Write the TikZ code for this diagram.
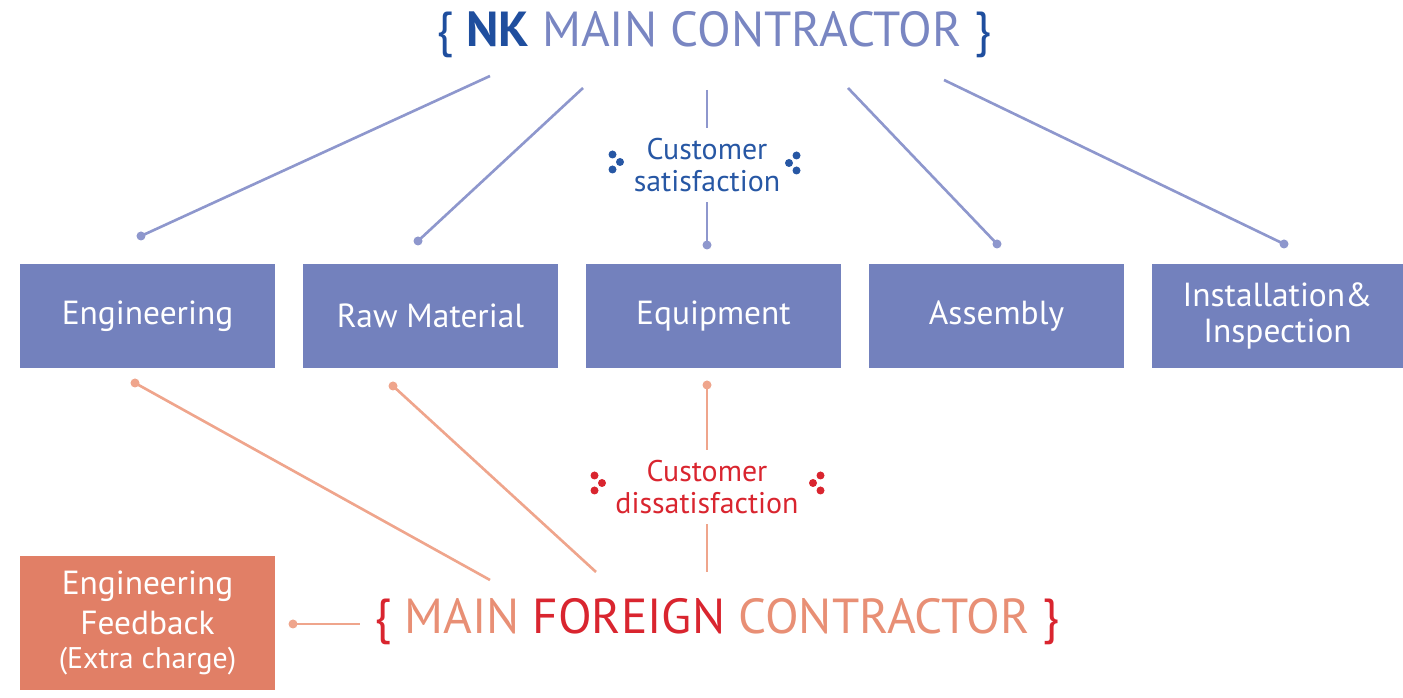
\documentclass[tikz,border=0pt]{standalone}
\usepackage{fontspec}
\setmainfont{PT Sans}

\definecolor{boxblue}{HTML}{7381BD}
\definecolor{lineblue}{HTML}{8E97CD}
\definecolor{nkblue}{HTML}{1F4E9E}
\definecolor{softblue}{HTML}{7986C2}
\definecolor{satblue}{HTML}{2757A4}
\definecolor{boxorange}{HTML}{E17F66}
\definecolor{lineorange}{HTML}{EFA58C}
\definecolor{softorange}{HTML}{E88F75}
\definecolor{dissred}{HTML}{D9252F}

\begin{document}
\begin{tikzpicture}[x=0.01cm,y=-0.01cm,
    stage/.style={fill=boxblue,minimum width=2.55cm,minimum height=1.04cm,inner sep=0pt,
                  text=white,align=center,font=\fontsize{9.5}{11}\selectfont},
    title/.style={inner sep=0pt,font=\fontsize{14}{16}\selectfont},
    note/.style={align=center,inner sep=0.1cm,font=\fontsize{8.5}{9}\selectfont},
    bdot/.style={circle,fill=lineblue,inner sep=0pt,minimum size=0.09cm},
    odot/.style={circle,fill=lineorange,inner sep=0pt,minimum size=0.09cm},
    bline/.style={draw=lineblue,line width=0.75pt},
    oline/.style={draw=lineorange,line width=0.75pt}]

    \useasboundingbox (0,0) rectangle (1403,698);

    % Define titles
    \node[title] (nk) at (714,35)
        {\color{nkblue}\{ \textbf{NK} \color{softblue}MAIN CONTRACTOR \color{nkblue}\}};
    \node[title] (mfc) at (717,622)
        {\color{dissred}\{ \color{softorange}MAIN \color{dissred}FOREIGN \color{softorange}CONTRACTOR \color{dissred}\}};

    % Define stages
    \node[stage] (eng) at (147.5,316) {Engineering};
    \node[stage] (raw) at (430.5,316) {Raw Material};
    \node[stage] (equ) at (713.5,316) {Equipment};
    \node[stage] (asm) at (996.5,316) {Assembly};
    \node[stage,minimum width=2.51cm] (ins) at (1277.5,316) {Installation\&\\[-1pt]Inspection};
    \node[stage,fill=boxorange,minimum height=1.34cm] (fb) at (147.5,623)
        {Engineering\\[0.4pt]Feedback\\[-1.3pt]{\fontsize{8.5}{10}\selectfont(Extra charge)}};

    % Define notes
    \node[note,text=satblue] (sat) at (707,165) {Customer\\satisfaction};
    \node[note,text=dissred] (dis) at (707,487) {Customer\\dissatisfaction};

    % Define dots
    \node[bdot] (b1) at (141,236) {};
    \node[bdot] (b2) at (418,241) {};
    \node[bdot] (b3) at (707,245) {};
    \node[bdot] (b4) at (997,244) {};
    \node[bdot] (b5) at (1284,244) {};
    \node[odot] (o1) at (135,383) {};
    \node[odot] (o2) at (393,386) {};
    \node[odot] (o3) at (707,385) {};
    \node[odot] (o4) at (293,624) {};

    % Free ends
    \coordinate (t1) at (490,76);
    \coordinate (t2) at (583,88);
    \coordinate (t3) at (707,90);
    \coordinate (t4) at (848,88);
    \coordinate (t5) at (944,80);
    \coordinate (f1) at (490,580);
    \coordinate (f2) at (596,572);
    \coordinate (f3) at (707,572);
    \coordinate (f4) at (360,624);

    % Draw edges
    \path[bline]
        (t1) edge (b1.center)
        (t2) edge (b2.center)
        (t3) edge (sat.north)
        (sat.south) edge (b3.center)
        (t4) edge (b4.center)
        (t5) edge (b5.center);
    \path[oline]
        (o1.center) edge (f1)
        (o2.center) edge (f2)
        (o3.center) edge (dis.north)
        (dis.south) edge (f3)
        (o4.center) edge (f4);

    % Clover marks
    \foreach \dx/\dy in {-3.5/-7.5,4/0,-3.5/7.5} {
        \fill[satblue] (616+\dx,162+\dy) circle (0.04cm);
        \fill[satblue] (793-\dx,163+\dy) circle (0.04cm);
        \fill[dissred] (598+\dx,483+\dy) circle (0.04cm);
        \fill[dissred] (817-\dx,483+\dy) circle (0.04cm);
    }

\end{tikzpicture}
\end{document}
